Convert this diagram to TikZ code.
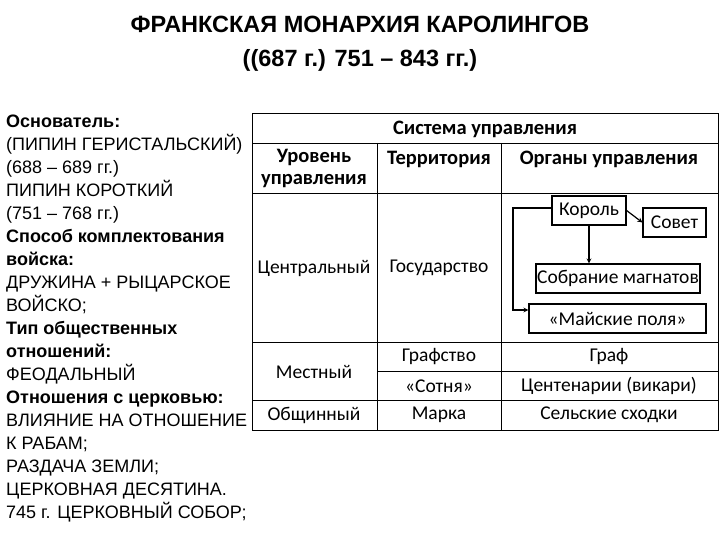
\documentclass[tikz,border=0pt]{standalone}
\usepackage{fontspec}
\setmainfont{Liberation Sans}
\newfontfamily\carl{Carlito}
\begin{document}
\begin{tikzpicture}[x=1pt,y=-1pt,
  cell/.style={font=\carl\fontsize{19.5}{21}\selectfont,inner sep=0pt},
  hcell/.style={font=\carl\bfseries\fontsize{20.5}{22}\selectfont,inner sep=0pt,align=center},
  obox/.style={draw,line width=1.2pt,font=\carl\fontsize{19.5}{21}\selectfont,inner sep=0pt},
  arr/.style={line width=1.2pt,-stealth}]
\useasboundingbox (0,0) rectangle (720,540);
\node[font=\bfseries\fontsize{23.5}{34}\selectfont,align=center] (title) at (360,44) {ФРАНКСКАЯ МОНАРХИЯ КАРОЛИНГОВ\\((687 г.) 751 – 843 гг.)};
\node[anchor=north west,align=left,inner sep=0pt,font=\fontsize{18}{23}\selectfont] (left) at (6,115) {%
\textbf{Основатель:}\\(ПИПИН ГЕРИСТАЛЬСКИЙ)\\(688 – 689 гг.)\\ПИПИН КОРОТКИЙ\\(751 – 768 гг.)\\
\textbf{Способ комплектования}\\\textbf{войска:}\\ДРУЖИНА + РЫЦАРСКОЕ\\ВОЙСКО;\\\textbf{Тип общественных}\\\textbf{отношений:}\\ФЕОДАЛЬНЫЙ\\
\textbf{Отношения с церковью:}\\ВЛИЯНИЕ НА ОТНОШЕНИЕ\\К РАБАМ;\\РАЗДАЧА ЗЕМЛИ;\\ЦЕРКОВНАЯ ДЕСЯТИНА.\\745 г. ЦЕРКОВНЫЙ СОБОР;};
% table grid
\draw[line width=0.8pt] (252,113) rectangle (718,430);
\draw[line width=0.8pt] (252,143) -- (718,143) (252,193) -- (718,193) (252,342) -- (718,342)
  (377,371) -- (718,371) (252,400) -- (718,400)
  (377,143) -- (377,430) (501,143) -- (501,430);
\node[hcell] (sys) at (485,129) {Система управления};
\node[hcell] (lev) at (314,168) {Уровень\\управления};
\node[hcell] (ter) at (439,159) {Территория};
\node[hcell] (org) at (609,159) {Органы управления};
\node[cell] (c1) at (314,268) {Центральный};
\node[cell] (c2) at (439,268) {Государство};
\node[cell] (m1) at (314,372) {Местный};
\node[cell] (m2) at (439,357) {Графство};
\node[cell] (m3) at (609,357) {Граф};
\node[cell] (s2) at (439,386) {«Сотня»};
\node[cell] (s3) at (609,386) {Центенарии (викари)};
\node[cell] (o1) at (314,415) {Общинный};
\node[cell] (o2) at (439,415) {Марка};
\node[cell] (o3) at (609,415) {Сельские сходки};
% boxes
\node[obox,minimum width=74pt,minimum height=29pt] (king) at (589,210.5) {Король};
\node[obox,minimum width=63pt,minimum height=29pt] (sov) at (674.5,222.5) {Совет};
\node[obox,minimum width=164pt,minimum height=29pt] (mag) at (618,278.5) {Собрание магнатов};
\node[obox,minimum width=177pt,minimum height=29pt] (may) at (617.5,318.5) {«Майские поля»};
\draw[arr] (king.east) -- (sov.west);
\draw[arr] (king.south) -- (king.south |- mag.north);
\coordinate (k1) at (513,208);
\coordinate (k2) at (513,310);
\draw[arr] (king.west |- k1) -- (k1) -- (k2) -- (may.west |- k2);
\end{tikzpicture}
\end{document}
